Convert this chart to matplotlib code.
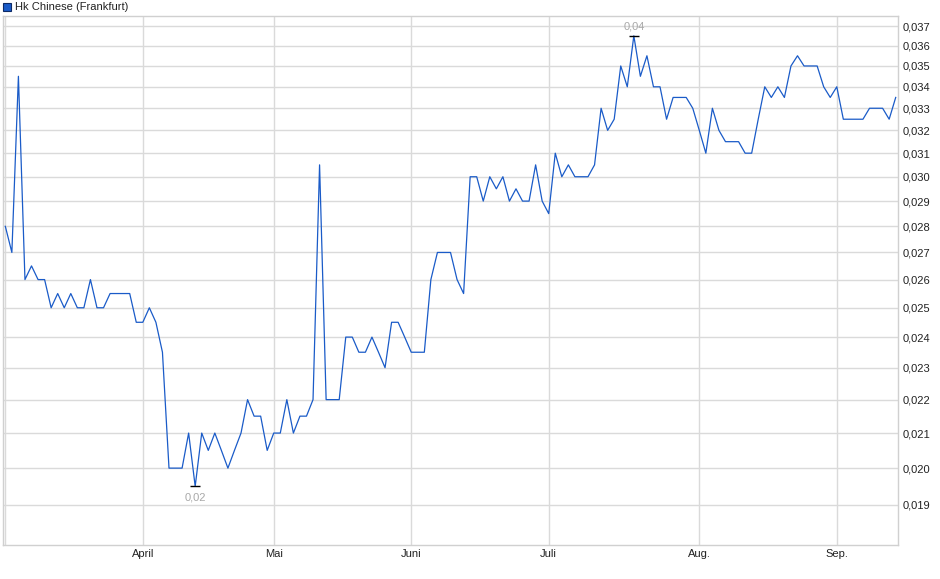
import numpy as np
import pandas as pd
import matplotlib
matplotlib.use("Agg")
import matplotlib.pyplot as plt
from matplotlib.ticker import FixedLocator, NullLocator, FixedFormatter
from matplotlib.patches import Rectangle

# DATA
SERIES_NAME = "Hk Chinese (Frankfurt)"

# trading days (Frankfurt), holidays removed
dates = pd.bdate_range("2025-03-03", "2025-09-12")
dates = dates[~dates.isin(pd.to_datetime(["2025-04-18", "2025-04-21", "2025-05-01"]))]

prices = [
    0.028, 0.027, 0.0345, 0.026, 0.0265, 0.026, 0.026, 0.025, 0.0255, 0.025,
    0.0255, 0.025, 0.025, 0.026, 0.025, 0.025, 0.0255, 0.0255, 0.0255, 0.0255,
    0.0245, 0.0245, 0.025, 0.0245, 0.0235, 0.020, 0.020, 0.020, 0.021, 0.0195,
    0.021, 0.0205, 0.021, 0.0205, 0.020, 0.0205, 0.021, 0.022, 0.0215, 0.0215,
    0.0205, 0.021, 0.021, 0.022, 0.021, 0.0215, 0.0215, 0.022, 0.0305, 0.022,
    0.022, 0.022, 0.024, 0.024, 0.0235, 0.0235, 0.024, 0.0235, 0.023, 0.0245,
    0.0245, 0.024, 0.0235, 0.0235, 0.0235, 0.026, 0.027, 0.027, 0.027, 0.026,
    0.0255, 0.030, 0.030, 0.029, 0.030, 0.0295, 0.030, 0.029, 0.0295, 0.029,
    0.029, 0.0305, 0.029, 0.0285, 0.031, 0.030, 0.0305, 0.030, 0.030, 0.030,
    0.0305, 0.033, 0.032, 0.0325, 0.035, 0.034, 0.0365, 0.0345, 0.0355, 0.034,
    0.034, 0.0325, 0.0335, 0.0335, 0.0335, 0.033, 0.032, 0.031, 0.033, 0.032,
    0.0315, 0.0315, 0.0315, 0.031, 0.031, 0.0325, 0.034, 0.0335, 0.034, 0.0335,
    0.035, 0.0355, 0.035, 0.035, 0.035, 0.034, 0.0335, 0.034, 0.0325, 0.0325,
    0.0325, 0.0325, 0.033, 0.033, 0.033, 0.0325, 0.0335,
]

MONTH_LABELS = ["", "April", "Mai", "Juni", "Juli", "Aug.", "Sep."]
Y_TICKS = [0.019, 0.020, 0.021, 0.022, 0.023, 0.024, 0.025, 0.026, 0.027, 0.028,
           0.029, 0.030, 0.031, 0.032, 0.033, 0.034, 0.035, 0.036, 0.037]

# STYLE
LINE_COLOR = "#1a5bc8"
GRID_COLOR = "#dadada"
TEXT_COLOR = "#222222"
FONT = "Liberation Sans"

plt.rcParams["font.family"] = [FONT, "DejaVu Sans"]

x = np.arange(len(dates))
y = np.array(prices)
month_start = np.r_[0, np.flatnonzero(np.diff(dates.month)) + 1]

fig = plt.figure(figsize=(9.4, 5.79), dpi=100)
ax = fig.add_axes([2.7 / 940, 1 - 545 / 579, (898 - 2.7) / 940, (545 - 16) / 579])

ax.plot(x, y, color=LINE_COLOR, linewidth=0.9, zorder=3)

ax.set_yscale("log")
ax.set_ylim(0.017971, 0.03752)
ax.set_xlim(-0.4, 136.35)

ax.yaxis.set_major_locator(FixedLocator(Y_TICKS))
ax.yaxis.set_major_formatter(FixedFormatter([f"{v:.3f}".replace(".", ",") for v in Y_TICKS]))
ax.yaxis.set_minor_locator(NullLocator())
ax.yaxis.tick_right()

ax.set_xticks(month_start)
ax.set_xticklabels(MONTH_LABELS)

ax.grid(True, color=GRID_COLOR, linewidth=1.0, zorder=0)
ax.tick_params(axis="both", length=0, labelsize=8, colors=TEXT_COLOR)
ax.tick_params(axis="x", pad=3)
ax.tick_params(axis="y", pad=3)
for s in ax.spines.values():
    s.set_color("#d0d0d0")
    s.set_linewidth(1.0)

# min / max markers
for idx, off, va in [(int(np.argmax(y)), 3.0, "bottom"), (int(np.argmin(y)), -4.5, "top")]:
    ax.plot(x[idx], y[idx], marker="_", color="black", markersize=6.5,
            markeredgewidth=1.0, zorder=4)
    ax.annotate(f"{y[idx]:.2f}".replace(".", ","), (x[idx], y[idx]),
                xytext=(0, off), textcoords="offset points",
                ha="center", va=va, fontsize=8, color="#a8a8a8")

# legend box top left
fig.patches.append(Rectangle((3 / 940, 1 - 11 / 579), 7.5 / 940, 8 / 579,
                             transform=fig.transFigure, facecolor=LINE_COLOR,
                             edgecolor="#0d2a66", linewidth=0.8))
fig.text(15 / 940, 1 - 6.5 / 579, SERIES_NAME, ha="left", va="center",
         fontsize=8, color=TEXT_COLOR)

fig.savefig("out.png", dpi=100)
